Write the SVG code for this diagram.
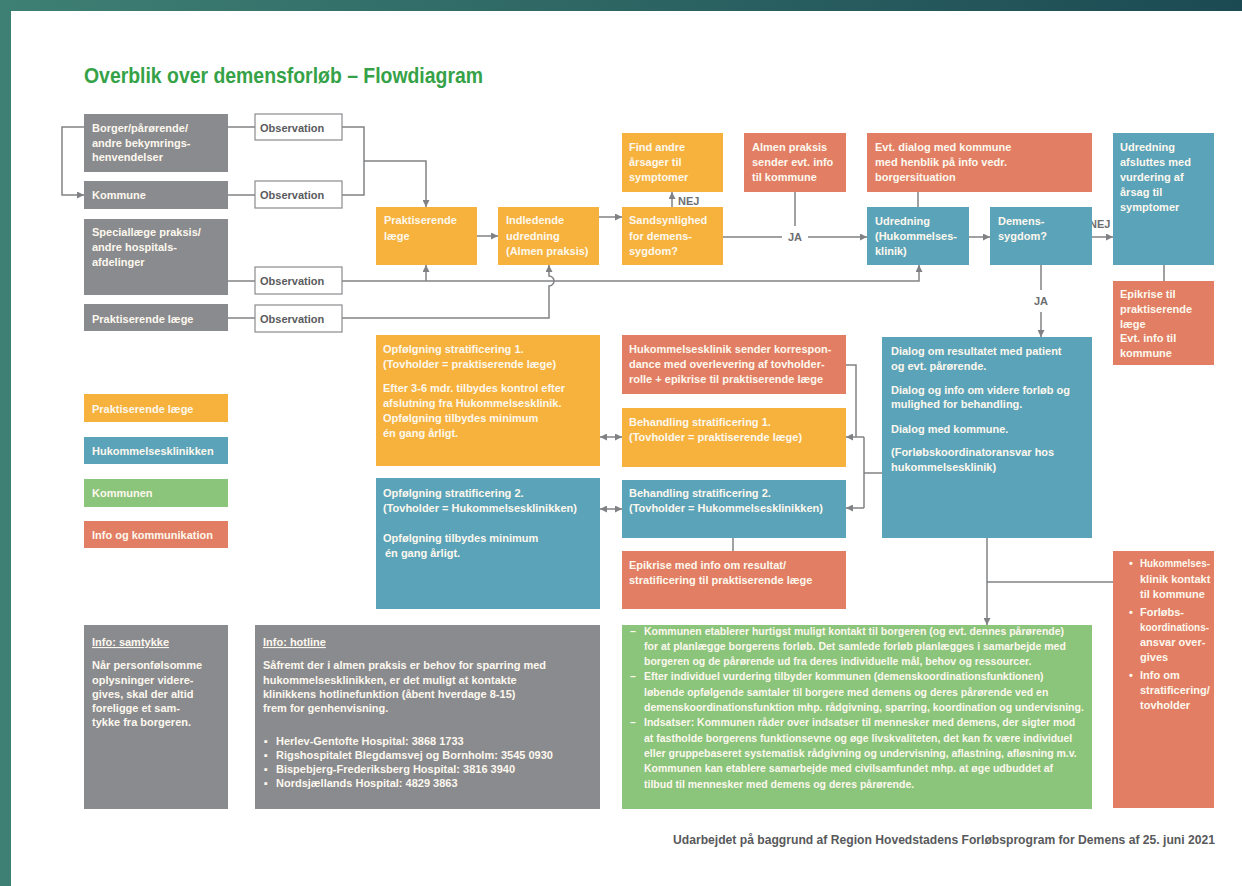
<svg xmlns="http://www.w3.org/2000/svg" width="1242" height="886" viewBox="0 0 1242 886">
<defs>
<linearGradient id="bg" x1="0" y1="0" x2="1" y2="0">
<stop offset="0" stop-color="#3e8074"/>
<stop offset="1" stop-color="#1c4a53"/>
</linearGradient>
<marker id="ah" viewBox="0 0 8 8" refX="8" refY="4" markerWidth="7" markerHeight="7" markerUnits="userSpaceOnUse" orient="auto-start-reverse">
<path d="M0,0 L8,4 L0,8 z" fill="#7f8184"/>
</marker>
<style>
.t{font-family:"Liberation Sans",Arial,sans-serif;font-weight:bold;font-size:11px;fill:#fdf8ee}
.g{font-size:10.5px}
.ob{fill:#5a5b5d}
.lab{font-family:"Liberation Sans",Arial,sans-serif;font-weight:bold;font-size:11px;fill:#6d6e71}
.ln{fill:none;stroke:#808285;stroke-width:1.5}
.arr{marker-end:url(#ah)}
.dbl{marker-start:url(#ah);marker-end:url(#ah)}
.gr{fill:#8a8b8e}
.or{fill:#f6b23c}
.bl{fill:#5ba3b9}
.gn{fill:#8bc47b}
.rd{fill:#e27e63}
.obs{fill:#fff;stroke:#8a8b8e;stroke-width:1.2}
</style>
</defs>
<rect x="0" y="0" width="1242" height="886" fill="url(#bg)"/>
<rect x="11" y="11" width="1231" height="875" fill="#fff"/>
<text x="84" y="83" font-family="Liberation Sans, Arial, sans-serif" font-weight="bold" font-size="22" fill="#36a247" textLength="399" lengthAdjust="spacingAndGlyphs">Overblik over demensforløb – Flowdiagram</text>

<g id="connectors">
<path class="ln arr" d="M84,127 H62 V195 H84"/>
<path class="ln" d="M228,127 H255 M228,195 H255 M228,281 H255 M228,318 H255"/>
<path class="ln" d="M342,127 H364 V195 H342"/>
<path class="ln arr" d="M364,161 H426 V207"/>
<path class="ln arr" d="M342,281 H919 V265"/>
<path class="ln arr" d="M426,281 V265"/>
<path class="ln arr" d="M342,318 H549 V286 a5,5 0 0 0 0,-10 V265"/>
<path class="ln arr" d="M477,236 H498"/>
<path class="ln arr" d="M599,217 H622"/>
<path class="ln arr" d="M672,207 V192"/>
<path class="ln" d="M723,237 H782"/>
<path class="ln arr" d="M808,237 H867"/>
<path class="ln" d="M795,192 V226"/>
<path class="ln" d="M918,192 V207"/>
<path class="ln arr" d="M969,237 H990"/>
<path class="ln arr" d="M1092,237 H1113"/>
<path class="ln" d="M1164,265 V281"/>
<path class="ln" d="M1041,265 V290"/>
<path class="ln arr" d="M1041,312 V337"/>
<path class="ln" d="M882,473 H864"/>
<path class="ln" d="M864,437 V508"/>
<path class="ln arr" d="M864,437 H846"/>
<path class="ln arr" d="M864,508 H846"/>
<path class="ln" d="M846,365 H856 V437"/>
<path class="ln dbl" d="M600,437 H622"/>
<path class="ln dbl" d="M600,509 H622"/>
<path class="ln" d="M733,538 V551"/>
<path class="ln arr" d="M987,538 V625"/>
<path class="ln" d="M987,582 H1113"/>
<text class="lab" x="678" y="205">NEJ</text>
<text class="lab" x="795" y="241" text-anchor="middle">JA</text>
<text class="lab" x="1089" y="228">NEJ</text>
<text class="lab" x="1041" y="305" text-anchor="middle">JA</text>
</g>

<g id="n-borger"><rect class="gr" x="84" y="114" width="144" height="58"/>
<text class="t" x="92" y="131.5">Borger/pårørende/</text><text class="t" x="92" y="146.5">andre bekymrings-</text><text class="t" x="92" y="161">henvendelser</text></g>
<g id="n-kommune"><rect class="gr" x="84" y="181" width="144" height="28"/>
<text class="t" x="92" y="199">Kommune</text></g>
<g id="n-special"><rect class="gr" x="84" y="219" width="144" height="76"/>
<text class="t" x="92" y="236">Speciallæge praksis/</text><text class="t" x="92" y="251">andre hospitals-</text><text class="t" x="92" y="266">afdelinger</text></g>
<g id="n-praktgray"><rect class="gr" x="84" y="304" width="144" height="27"/>
<text class="t" x="92" y="322.5">Praktiserende læge</text></g>

<g id="n-obs1"><rect class="obs" x="255" y="114" width="87" height="26"/><text class="t ob" x="260" y="131.5">Observation</text></g>
<g id="n-obs2"><rect class="obs" x="255" y="181" width="87" height="27"/><text class="t ob" x="260" y="199">Observation</text></g>
<g id="n-obs3"><rect class="obs" x="255" y="267" width="87" height="27"/><text class="t ob" x="260" y="285">Observation</text></g>
<g id="n-obs4"><rect class="obs" x="255" y="305" width="87" height="27"/><text class="t ob" x="260" y="323">Observation</text></g>

<g id="n-prakt"><rect class="or" x="376" y="207" width="101" height="58"/>
<text class="t" x="384" y="224">Praktiserende</text><text class="t" x="384" y="240">læge</text></g>
<g id="n-indl"><rect class="or" x="498" y="207" width="101" height="58"/>
<text class="t" x="506" y="224">Indledende</text><text class="t" x="506" y="240">udredning</text><text class="t" x="506" y="255">(Almen praksis)</text></g>
<g id="n-sands"><rect class="or" x="622" y="207" width="101" height="58"/>
<text class="t" x="629" y="224">Sandsynlighed</text><text class="t" x="629" y="240">for demens-</text><text class="t" x="629" y="255">sygdom?</text></g>
<g id="n-find"><rect class="or" x="622" y="133" width="101" height="59"/>
<text class="t" x="629" y="151">Find andre</text><text class="t" x="629" y="166">årsager til</text><text class="t" x="629" y="181">symptomer</text></g>
<g id="n-almen"><rect class="rd" x="744" y="133" width="102" height="59"/>
<text class="t" x="752" y="151">Almen praksis</text><text class="t" x="752" y="166">sender evt. info</text><text class="t" x="752" y="181">til kommune</text></g>
<g id="n-evt"><rect class="rd" x="867" y="133" width="225" height="59"/>
<text class="t" x="875" y="151">Evt. dialog med kommune</text><text class="t" x="875" y="166">med henblik på info vedr.</text><text class="t" x="875" y="181">borgersituation</text></g>
<g id="n-udr"><rect class="bl" x="867" y="207" width="102" height="58"/>
<text class="t" x="875" y="225">Udredning</text><text class="t" x="875" y="240">(Hukommelses-</text><text class="t" x="875" y="255">klinik)</text></g>
<g id="n-demens"><rect class="bl" x="990" y="207" width="102" height="58"/>
<text class="t" x="998" y="225">Demens-</text><text class="t" x="998" y="240">sygdom?</text></g>
<g id="n-afsl"><rect class="bl" x="1113" y="133" width="101" height="132"/>
<text class="t" x="1120" y="151">Udredning</text><text class="t" x="1120" y="166">afsluttes med</text><text class="t" x="1120" y="181">vurdering af</text><text class="t" x="1120" y="196">årsag til</text><text class="t" x="1120" y="211">symptomer</text></g>
<g id="n-epik1"><rect class="rd" x="1113" y="281" width="101" height="84"/>
<text class="t" x="1120" y="298">Epikrise til</text><text class="t" x="1120" y="313">praktiserende</text><text class="t" x="1120" y="328">læge</text><text class="t" x="1120" y="342">Evt. info til</text><text class="t" x="1120" y="357">kommune</text></g>

<g id="n-opf1"><rect class="or" x="376" y="335" width="224" height="131"/>
<text class="t" x="383" y="353">Opfølgning stratificering 1.</text><text class="t" x="383" y="368">(Tovholder = praktiserende læge)</text>
<text class="t" x="383" y="392">Efter 3-6 mdr. tilbydes kontrol efter</text><text class="t" x="383" y="407">afslutning fra Hukommelsesklinik.</text><text class="t" x="383" y="422">Opfølgning tilbydes minimum</text><text class="t" x="383" y="437">én gang årligt.</text></g>
<g id="n-korr"><rect class="rd" x="622" y="335" width="224" height="59"/>
<text class="t" x="629" y="353">Hukommelsesklinik sender korrespon-</text><text class="t" x="629" y="368">dance med overlevering af tovholder-</text><text class="t" x="629" y="383">rolle + epikrise til praktiserende læge</text></g>
<g id="n-beh1"><rect class="or" x="622" y="408" width="224" height="59"/>
<text class="t" x="629" y="426">Behandling stratificering 1.</text><text class="t" x="629" y="441">(Tovholder = praktiserende læge)</text></g>
<g id="n-opf2"><rect class="bl" x="376" y="478" width="224" height="131"/>
<text class="t" x="383" y="497">Opfølgning stratificering 2.</text><text class="t" x="383" y="512">(Tovholder = Hukommelsesklinikken)</text>
<text class="t" x="383" y="542">Opfølgning tilbydes minimum</text><text class="t" x="385" y="557">én gang årligt.</text></g>
<g id="n-beh2"><rect class="bl" x="622" y="480" width="224" height="58"/>
<text class="t" x="629" y="497">Behandling stratificering 2.</text><text class="t" x="629" y="512">(Tovholder = Hukommelsesklinikken)</text></g>
<g id="n-epik2"><rect class="rd" x="622" y="551" width="224" height="58"/>
<text class="t" x="629" y="569">Epikrise med info om resultat/</text><text class="t" x="629" y="584">stratificering til praktiserende læge</text></g>

<g id="n-dialog"><rect class="bl" x="882" y="337" width="210" height="201"/>
<text class="t" x="891" y="355">Dialog om resultatet med patient</text><text class="t" x="891" y="370">og evt. pårørende.</text>
<text class="t" x="891" y="394">Dialog og info om videre forløb og</text><text class="t" x="891" y="408">mulighed for behandling.</text>
<text class="t" x="891" y="433">Dialog med kommune.</text>
<text class="t" x="891" y="456">(Forløbskoordinatoransvar hos</text><text class="t" x="891" y="471">hukommelsesklinik)</text></g>

<g id="n-hukkontakt"><rect class="rd" x="1113" y="551" width="101" height="257"/>
<text class="t" x="1129" y="567">•</text><text class="t" x="1140" y="567" textLength="70" lengthAdjust="spacingAndGlyphs">Hukommelses-</text><text class="t" x="1140" y="583">klinik kontakt</text><text class="t" x="1140" y="598">til kommune</text>
<text class="t" x="1129" y="616">•</text><text class="t" x="1140" y="616">Forløbs-</text><text class="t" x="1140" y="631" textLength="69" lengthAdjust="spacingAndGlyphs">koordinations-</text><text class="t" x="1140" y="646">ansvar over-</text><text class="t" x="1140" y="661">gives</text>
<text class="t" x="1129" y="679">•</text><text class="t" x="1140" y="679">Info om</text><text class="t" x="1140" y="694">stratificering/</text><text class="t" x="1140" y="709">tovholder</text></g>

<g id="n-kommunen"><rect class="gn" x="622" y="625" width="470" height="184"/>
<text class="t g" x="630" y="634.5">–</text><text class="t g" x="644" y="634.5">Kommunen etablerer hurtigst muligt kontakt til borgeren (og evt. dennes pårørende)</text>
<text class="t g" x="644" y="649.8">for at planlægge borgerens forløb. Det samlede forløb planlægges i samarbejde med</text>
<text class="t g" x="644" y="665.1">borgeren og de pårørende ud fra deres individuelle mål, behov og ressourcer.</text>
<text class="t g" x="630" y="680.4">–</text><text class="t g" x="644" y="680.4">Efter individuel vurdering tilbyder kommunen (demenskoordinationsfunktionen)</text>
<text class="t g" x="644" y="695.7">løbende opfølgende samtaler til borgere med demens og deres pårørende ved en</text>
<text class="t g" x="644" y="711">demenskoordinationsfunktion mhp. rådgivning, sparring, koordination og undervisning.</text>
<text class="t g" x="630" y="726.3">–</text><text class="t g" x="644" y="726.3">Indsatser: Kommunen råder over indsatser til mennesker med demens, der sigter mod</text>
<text class="t g" x="644" y="741.6">at fastholde borgerens funktionsevne og øge livskvaliteten, det kan fx være individuel</text>
<text class="t g" x="644" y="756.9">eller gruppebaseret systematisk rådgivning og undervisning, aflastning, afløsning m.v.</text>
<text class="t g" x="644" y="772.2">Kommunen kan etablere samarbejde med civilsamfundet mhp. at øge udbuddet af</text>
<text class="t g" x="644" y="787.5">tilbud til mennesker med demens og deres pårørende.</text></g>

<g id="legend">
<g id="lg-prakt"><rect class="or" x="84" y="394" width="144" height="28"/><text class="t" x="92" y="412.5">Praktiserende læge</text></g>
<g id="lg-huk"><rect class="bl" x="84" y="437" width="144" height="27"/><text class="t" x="92" y="454.5">Hukommelsesklinikken</text></g>
<g id="lg-kom"><rect class="gn" x="84" y="479" width="144" height="28"/><text class="t" x="92" y="497">Kommunen</text></g>
<g id="lg-info"><rect class="rd" x="84" y="521" width="144" height="27"/><text class="t" x="92" y="539">Info og kommunikation</text></g>
</g>

<g id="n-samtykke"><rect class="gr" x="84" y="625" width="144" height="184"/>
<text class="t" x="92" y="646" text-decoration="underline">Info: samtykke</text>
<text class="t" x="92" y="669">Når personfølsomme</text><text class="t" x="92" y="684">oplysninger videre-</text><text class="t" x="92" y="698">gives, skal der altid</text><text class="t" x="92" y="712">foreligge et sam-</text><text class="t" x="92" y="726">tykke fra borgeren.</text></g>
<g id="n-hotline"><rect class="gr" x="255" y="625" width="345" height="184"/>
<text class="t" x="263" y="646" text-decoration="underline">Info: hotline</text>
<text class="t" x="263" y="669">Såfremt der i almen praksis er behov for sparring med</text>
<text class="t" x="263" y="684">hukommelsesklinikken, er det muligt at kontakte</text>
<text class="t" x="263" y="698">klinikkens hotlinefunktion (åbent hverdage 8-15)</text>
<text class="t" x="263" y="712">frem for genhenvisning.</text>
<text class="t" x="264" y="744.5">▪</text><text class="t" x="276" y="744.5">Herlev-Gentofte Hospital: 3868 1733</text>
<text class="t" x="264" y="759">▪</text><text class="t" x="276" y="759">Rigshospitalet Blegdamsvej og Bornholm: 3545 0930</text>
<text class="t" x="264" y="773">▪</text><text class="t" x="276" y="773">Bispebjerg-Frederiksberg Hospital: 3816 3940</text>
<text class="t" x="264" y="787">▪</text><text class="t" x="276" y="787">Nordsjællands Hospital: 4829 3863</text></g>

<text x="673" y="844" font-family="Liberation Sans, Arial, sans-serif" font-weight="bold" font-size="12" fill="#58595b" textLength="542" lengthAdjust="spacingAndGlyphs">Udarbejdet på baggrund af Region Hovedstadens Forløbsprogram for Demens af 25. juni 2021</text>
</svg>
